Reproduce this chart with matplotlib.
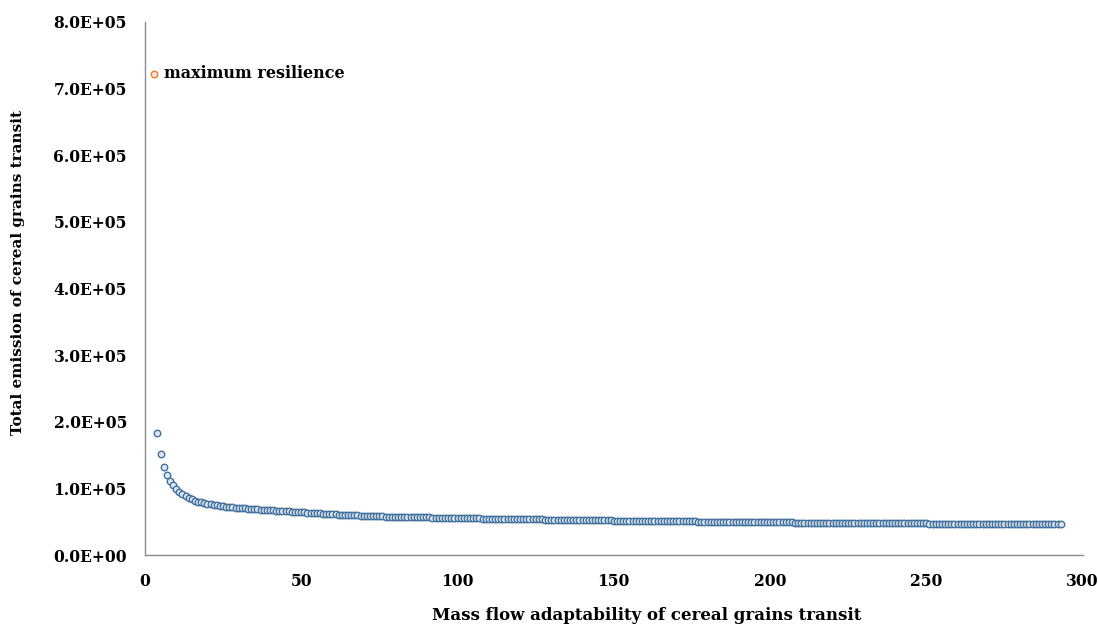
import numpy as np
import matplotlib
matplotlib.use("Agg")
import matplotlib.pyplot as plt
from matplotlib.ticker import FuncFormatter

# valores (emision en miles)
max_res_x = [3]
max_res_k = [722.0]
max_res_label = "maximum resilience"

flow_x = list(range(4, 294))
emission_k = [
    182.7, 151.2, 131.7, 120.0, 111.6, 104.6, 98.9, 94.6, 91.0, 88.1,
    85.6, 83.5, 81.7, 80.2, 78.9, 77.8, 76.8, 75.9, 75.1, 74.4,
    73.7, 73.1, 72.5, 72.0, 71.5, 71.0, 70.6, 70.2, 69.8, 69.4,
    69.0, 68.6, 68.3, 68.0, 67.7, 67.4, 67.1, 66.8, 66.5, 66.2,
    65.9, 65.6, 65.3, 65.0, 64.7, 64.4, 64.1, 63.8, 63.5, 63.2,
    62.9, 62.6, 62.4, 62.1, 61.8, 61.5, 61.3, 61.0, 60.7, 60.5,
    60.2, 60.0, 59.8, 59.5, 59.3, 59.1, 58.9, 58.7, 58.5, 58.3,
    58.1, 57.9,
    57.8, 57.7, 57.6, 57.5, 57.4, 57.3, 57.2, 57.1, 57.0, 56.9,
    56.8, 56.7, 56.6, 56.5, 56.4, 56.3, 56.2, 56.1, 56.0, 55.9,
    55.8, 55.7, 55.6, 55.5, 55.4, 55.3, 55.2, 55.1, 55.0, 54.9,
    54.8, 54.8, 54.7, 54.6, 54.5, 54.5, 54.4, 54.3, 54.2, 54.2,
    54.1, 54.0, 53.9, 53.9, 53.8, 53.7, 53.6, 53.6, 53.5, 53.4,
    53.4, 53.3, 53.2, 53.1, 53.1, 53.0, 52.9, 52.9, 52.8, 52.7,
    52.7, 52.6, 52.5, 52.5, 52.4, 52.3, 52.3, 52.2, 52.1, 52.1,
    52.0, 51.9, 51.9, 51.8, 51.7, 51.7, 51.6, 51.6, 51.5, 51.4,
    51.4, 51.3, 51.3, 51.2, 51.1, 51.1, 51.0, 51.0, 50.9, 50.9,
    50.8, 50.7, 50.7, 50.6, 50.6, 50.5, 50.5, 50.4, 50.4, 50.3,
    50.3, 50.2, 50.2, 50.1, 50.1, 50.0, 50.0, 49.9, 49.9, 49.8,
    49.8, 49.7, 49.7, 49.6, 49.6, 49.5, 49.5, 49.4, 49.4, 49.3,
    49.3, 49.2, 49.2, 49.1, 49.1, 49.0, 49.0, 48.9, 48.9, 48.8,
    48.8, 48.8, 48.7, 48.7, 48.6, 48.6, 48.5, 48.5, 48.5, 48.4,
    48.4, 48.3, 48.3, 48.3, 48.2, 48.2, 48.1, 48.1, 48.1, 48.0,
    48.0, 48.0, 47.9, 47.9, 47.9, 47.8, 47.8, 47.8, 47.7, 47.7,
    47.7, 47.6, 47.6, 47.6, 47.5, 47.5, 47.5, 47.5, 47.4, 47.4,
    47.4, 47.3, 47.3, 47.3, 47.3, 47.2, 47.2, 47.2, 47.2, 47.1,
    47.1, 47.1, 47.1, 47.0, 47.0, 47.0, 47.0, 46.9, 46.9, 46.9,
    46.9, 46.9, 46.8, 46.8, 46.8, 46.8, 46.8, 46.7, 46.7, 46.7,
    46.7, 46.7, 46.6, 46.6, 46.6, 46.6, 46.6, 46.6, 46.5, 46.5,
    46.5, 46.5, 46.5, 46.5, 46.4, 46.4, 46.4, 46.4,
]

x_ticks = [0, 50, 100, 150, 200, 250, 300]
y_ticks = [0, 1e5, 2e5, 3e5, 4e5, 5e5, 6e5, 7e5, 8e5]

plt.rcParams['font.family'] = ['DejaVu Serif']

fig = plt.figure(figsize=(10.98, 6.25), dpi=100)
ax = fig.add_axes([0.132, 0.112, 0.854, 0.853])

ax.scatter(flow_x, np.array(emission_k) * 1000, s=22, facecolor='#dce6f2',
           edgecolor='#41719c', linewidths=1.0, zorder=3)
ax.scatter(max_res_x, np.array(max_res_k) * 1000, s=22, facecolor='#fbe5d6',
           edgecolor='#ed7d31', linewidths=1.0, zorder=3)
ax.annotate(max_res_label, xy=(max_res_x[0], max_res_k[0] * 1000),
            xytext=(7, 0), textcoords='offset points', ha='left', va='center',
            fontsize=11.5, fontweight='bold')

ax.set_xlim(0, 300)
ax.set_ylim(0, 8e5)
ax.set_xticks(x_ticks)
ax.set_yticks(y_ticks)
ax.yaxis.set_major_formatter(FuncFormatter(lambda v, p: f"{v:.1E}"))
ax.tick_params(length=0, labelsize=11.2, pad=13)
for lab in ax.get_xticklabels() + ax.get_yticklabels():
    lab.set_fontweight('bold')

for s in ['top', 'right']:
    ax.spines[s].set_visible(False)
for s in ['left', 'bottom']:
    ax.spines[s].set_color('#8c8c8c')
    ax.spines[s].set_linewidth(1.0)

ax.set_xlabel('Mass flow adaptability of cereal grains transit',
              fontsize=12, fontweight='bold', va='center')
ax.xaxis.set_label_coords(0.535, -0.113)
ax.set_ylabel('Total emission of cereal grains transit',
              fontsize=11, fontweight='bold', va='center')
ax.yaxis.set_label_coords(-0.135, 0.53)

fig.savefig('out.png', dpi=100)
